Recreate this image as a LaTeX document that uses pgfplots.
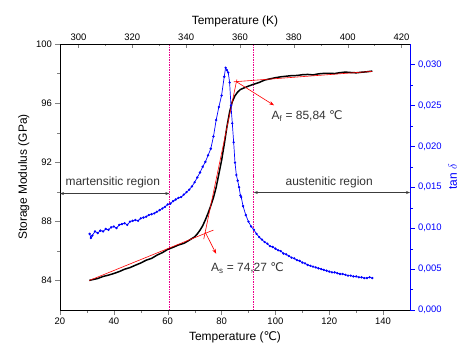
\documentclass[border=0pt]{standalone}
\usepackage{pgfplots}
\pgfplotsset{compat=1.18}
\usepackage{fontspec}
\setmainfont{Liberation Sans}
\newfontfamily\dejavu{DejaVu Sans}
\usetikzlibrary{arrows.meta}
\newcommand{\degC}{{\dejavu ℃}}
\definecolor{arrgray}{RGB}{60,60,60}

\pgfplotstableread{
T E
30.9 84.00
32 84.05
34 84.13
36 84.27
38 84.36
40 84.47
42 84.60
44 84.76
46 84.87
48 85.03
50 85.18
52 85.37
54 85.49
56 85.71
58 85.88
60 86.10
62 86.24
64 86.40
66 86.51
68 86.72
70 86.95
71 87.15
72 87.40
73 87.70
74 88.10
75 88.55
76 89.05
77 89.60
78 90.30
79 91.20
80 92.10
81 93.20
82 94.40
83 95.40
84 96.10
85 96.50
86 96.75
87 96.92
88 97.00
90 97.15
92 97.28
94 97.40
96 97.56
98 97.64
100 97.72
102 97.78
104 97.82
106 97.86
108 97.87
110 97.92
112 97.94
114 97.91
116 97.98
118 98.01
120 98.02
122 98.00
124 98.06
126 98.10
128 98.07
130 98.05
132 98.09
134 98.12
136 98.17
}\storagedata

\pgfplotstableread{
T D
31 0.0093
31.5 0.0088
32 0.0091
33 0.0096
34 0.0094
35 0.0097
36 0.0096
37 0.0099
38 0.0098
39 0.0101
40 0.0102
41 0.0100
42 0.0104
43 0.0105
44 0.0106
45 0.0104
46 0.0108
47 0.0109
48 0.0110
49 0.0109
50 0.0112
51 0.0113
52 0.0114
53 0.0116
54 0.0117
55 0.0118
56 0.0120
57 0.0122
58 0.0124
59 0.0126
60 0.0129
61 0.0130
62 0.0133
63 0.0135
64 0.0137
65 0.0138
66 0.0141
67 0.0144
68 0.0147
69 0.0151
70 0.0156
71 0.0162
72 0.0168
73 0.0175
74 0.0181
75 0.0189
76 0.0197
77 0.0212
78 0.0232
79 0.0248
80 0.0262
81 0.0285
81.5 0.0296
82 0.0293
82.5 0.0290
83 0.0278
83.5 0.0250
84 0.0228
84.5 0.0205
85 0.0180
85.5 0.0165
86 0.0158
86.5 0.0150
87 0.0140
87.3 0.0138
88 0.0127
89 0.0116
90 0.0108
91 0.0102
92 0.0098
93 0.0093
94 0.0089
95 0.0086
96 0.0083
97 0.0081
98 0.0078
99 0.0077
100 0.0075
101 0.0073
102 0.0072
103 0.0069
104 0.0068
105 0.0066
106 0.0064
107 0.0063
108 0.0061
109 0.0060
110 0.0058
111 0.0057
112 0.0055
113 0.0054
114 0.0053
115 0.0052
116 0.0051
117 0.0050
118 0.0049
119 0.0048
120 0.0047
121 0.0046
122 0.0046
123 0.0045
124 0.0044
125 0.0044
126 0.0043
127 0.0042
128 0.0042
129 0.0041
130 0.0041
131 0.0040
132 0.0040
133 0.0039
134 0.0039
135 0.0040
136 0.0039
}\tandata

\pgfplotsset{
  every axis/.append style={
    width=350bp, height=266bp, scale only axis,
    tick label style={font=\fontsize{9.5}{11}\selectfont},
    label style={font=\fontsize{12}{14}\selectfont},
    /pgf/number format/assume math mode=true,
    major tick length=4.5bp, minor tick length=2.5bp,
    tick align=outside,
  },
}

\begin{document}
\begin{tikzpicture}
% main axis
\begin{axis}[name=ax,
  xmin=20, xmax=150, ymin=82, ymax=100,
  xtick pos=bottom, ytick pos=left,
  xtick={20,40,...,140}, minor x tick num=1,
  ytick={84,88,92,96,100}, minor y tick num=1,
  xlabel={Temperature (\degC)},
  ylabel={Storage Modulus (GPa)},
  clip=false,
]
\draw[magenta, line width=0.7pt, dash pattern=on 1.5pt off 1pt] (axis cs:60.7,82) -- (axis cs:60.7,100);
\draw[magenta, line width=0.7pt, dash pattern=on 1.5pt off 1pt] (axis cs:92.0,82) -- (axis cs:92.0,100);
\addplot[black, line width=1.5pt] table[x=T, y=E] {\storagedata};
\addplot[red, line width=0.6pt] coordinates {(30.9,84.0) (77,87.41)};
\addplot[red, line width=0.6pt] coordinates {(73.4,86.8) (85.7,97.6)};
\addplot[red, line width=0.6pt] coordinates {(84.5,97.44) (136,98.15)};
\draw[red, line width=0.6pt, -{Stealth[length=5pt,width=3.5pt]}] (axis cs:85.5,97.45) -- (axis cs:99.5,95.85);
\draw[red, line width=0.6pt, -{Stealth[length=5pt,width=3.5pt]}] (axis cs:73.9,87.28) -- (axis cs:78.0,85.8);
\node[anchor=west, font=\fontsize{12}{14}\selectfont, text=black!80] at (axis cs:97.3,95.15) {A\textsubscript{f} = 85,84 \degC};
\node[anchor=west, font=\fontsize{12}{14}\selectfont, text=black!80] at (axis cs:74.8,84.85) {A\textsubscript{s} = 74,27 \degC};
\draw[arrgray, line width=0.6pt, {Stealth[length=4pt,width=3pt]}-{Stealth[length=4pt,width=3pt]}] (axis cs:20,89.88) -- (axis cs:60.6,89.88);
\draw[arrgray, line width=0.6pt, {Stealth[length=4pt,width=3pt]}-{Stealth[length=4pt,width=3pt]}] (axis cs:92,89.95) -- (axis cs:150,89.95);
\node[font=\fontsize{12}{14}\selectfont, text=black!80] at (axis cs:39.6,90.62) {martensitic region};
\node[font=\fontsize{12}{14}\selectfont, text=black!80] at (axis cs:120,90.64) {austenitic region};
\end{axis}
% right axis: tan delta
\begin{axis}[
  xmin=20, xmax=150, ymin=0, ymax=0.0325,
  axis x line=none, axis y line*=right,
  ytick={0,0.005,0.010,0.015,0.020,0.025,0.030}, minor y tick num=1,
  scaled y ticks=false,
  /pgf/number format/fixed,
  /pgf/number format/fixed zerofill,
  /pgf/number format/precision=3,
  /pgf/number format/use comma,
  y axis line style={blue, line width=0.8pt},
  every y tick/.style={blue},
  every minor y tick/.style={blue},
  y tick label style={text=blue},
  ylabel={tan $\delta$}, ylabel style={text=blue},
]
\addplot[blue, line width=0.7pt, mark=*, mark size=0.8pt] table[x=T, y=D] {\tandata};
\end{axis}
% top axis: Kelvin
\begin{axis}[
  xmin=293.15, xmax=423.15, ymin=0, ymax=1,
  axis x line*=top, axis y line=none,
  xtick={300,320,...,420}, minor x tick num=1,
  tick align=inside,
  xlabel={Temperature (K)},
]
\end{axis}
\pgfresetboundingbox
\useasboundingbox ([xshift=-60bp,yshift=-39bp]ax.south west) rectangle ([xshift=47bp,yshift=44bp]ax.north east);
\end{tikzpicture}
\end{document}
